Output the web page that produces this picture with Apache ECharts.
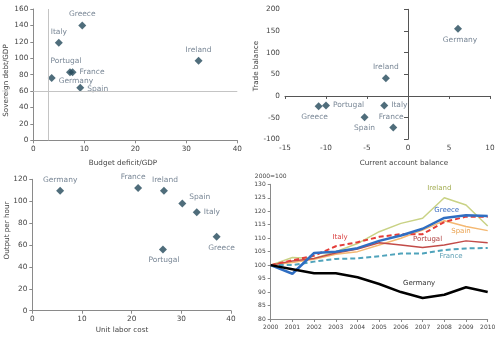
<!DOCTYPE html>
<html><head><meta charset="utf-8">
<script src="https://cdn.jsdelivr.net/npm/echarts@6/dist/echarts.min.js"></script>
<style>html,body{margin:0;padding:0;background:#fff}#c{width:500px;height:341px}</style>
</head><body><div id="c"></div>
<script>
// ---------- DATA ----------
// Chart 1: Budget deficit vs Sovereign debt
const c1Countries = ['Greece','Italy','Ireland','Portugal','France','Germany','Spain'];
const c1Deficit   = [9.6, 5.0, 32.4, 7.2, 7.7, 3.6, 9.2];
const c1Debt      = [140, 119, 97, 83, 83, 76, 64];
const c1RefX = 3, c1RefY = 60;
const c1XTicks = [0, 40, 10], c1YTicks = [0, 160, 20];
const c1Names = ['Budget deficit/GDP', 'Sovereign debt/GDP'];

// Chart 2: Current account balance vs Trade balance
const c2Countries = ['Germany','Ireland','Italy','France','Spain','Greece','Portugal'];
const c2Current   = [6.1, -2.7, -2.9, -1.8, -5.3, -10.9, -10.0];
const c2Trade     = [155, 41, -22, -73, -49, -24, -22];
const c2XTicks = [-15, 10, 5], c2YTicks = [-100, 200, 50];
const c2Names = ['Current account balance', 'Trade balance'];

// Chart 3: Unit labor cost vs Output per hour
const c3Countries = ['Germany','France','Ireland','Spain','Italy','Greece','Portugal'];
const c3ULC       = [5.6, 21.3, 26.5, 30.2, 33.1, 37.1, 26.3];
const c3Output    = [109.5, 112, 109.5, 98, 90, 67.5, 56];
const c3XTicks = [0, 40, 10], c3YTicks = [0, 120, 20];
const c3Names = ['Unit labor cost', 'Output per hour'];

// Chart 4: index 2000=100
const years = [2000,2001,2002,2003,2004,2005,2006,2007,2008,2009,2010];
const ireland  = [100, 102.8, 102.5, 105, 108, 112.4, 115.5, 117.4, 125, 122.3, 114.5];
const spain    = [100, 101, 102.2, 104, 105, 107.5, 110, 113, 116.5, 114.3, 112.8];
const portugal = [100, 101.5, 102.5, 104.5, 106, 108.3, 107.5, 106.5, 107.5, 109, 108.3];
const france   = [100, 100, 101.3, 102.3, 102.5, 103.3, 104.3, 104.3, 105.6, 106.2, 106.4];
const italy    = [100, 101.8, 103.5, 107, 108.5, 110.5, 111.5, 111.5, 116, 118, 118];
const greece   = [100, 96.8, 104.5, 105, 106.3, 109, 111, 113.5, 117.5, 118.5, 118.2];
const germany  = [100, 98.5, 97, 97, 95.5, 93, 90, 87.8, 89, 91.8, 90];
const c4YTicks = [80, 130, 5];
const c4Unit = '2000=100';

// ---------- STYLE / LAYOUT ----------
const FONT = 'DejaVu Sans';
const markerColor = '#23495a';
const labelColor = '#56687a';
const tickColor = '#444';
const axisColor = '#8a8a8a';
const TICK_FS = 7.3, NAME_FS = 7.2, LBL_FS = 7.5;

const c1Place = {Greece:['top',[0,0]], Italy:['top',[0,0]], Ireland:['top',[0,0]], Portugal:['top',[-4,0]],
  France:['right',[0,0]], Germany:['right',[0,3]], Spain:['right',[0,1]]};
const c2Place = {Germany:['bottom',[2,0]], Ireland:['top',[0,0]], Italy:['right',[0,0]], France:['top',[-2,0]],
  Spain:['bottom',[0,0]], Greece:['bottom',[-4,0]], Portugal:['right',[0,0]]};
const c3Place = {Germany:['top',[0,0]], France:['top',[-5,0]], Ireland:['top',[1,0]], Spain:['right',[0,-6]],
  Italy:['right',[0,0]], Greece:['bottom',[5,0]], Portugal:['bottom',[1,0]]};

// axis title placement (pixel centres), [x, y, rotated]
const nameSpots = [
  [c1Names[0], 123, 163, false], [c1Names[1], 6, 80.5, true],
  [c2Names[0], 404, 163, false], [c2Names[1], 256.5, 66, true],
  [c3Names[0], 122, 330.5, false], [c3Names[1], 7, 230.5, true]
];

function scatterData(names, xs, ys, place){
  return names.map((n,i)=>({
    value:[xs[i], ys[i]], name:n,
    label:{position:place[n][0], offset:place[n][1]}
  }));
}

function valAxis(gi, t, extra){
  return Object.assign({
    type:'value', gridIndex:gi, min:t[0], max:t[1], interval:t[2],
    splitLine:{show:false},
    axisLine:{show:true, onZero:false, lineStyle:{color:axisColor, width:1}},
    axisTick:{show:true, length:3, lineStyle:{color:axisColor}},
    axisLabel:{color:tickColor, fontFamily:FONT, fontSize:TICK_FS, margin:5}
  }, extra||{});
}

const scatterStyle = {
  type:'scatter', symbol:'diamond', symbolSize:8,
  itemStyle:{color:markerColor},
  label:{show:true, formatter:'{b}', color:labelColor, fontFamily:FONT, fontSize:LBL_FS, distance:3},
  emphasis:{disabled:true}
};

const lineLabelPos = {
  Ireland:[2007.77,128.5], Greece:[2008.11,120.3], Spain:[2008.77,112.7], Italy:[2003.2,110.2],
  Portugal:[2007.23,109.6], France:[2008.31,103.4], Germany:[2006.84,93.2]
};
function lineSeries(name, vals, color, width, dashed, lblColor){
  return {
    type:'line', name:name, xAxisIndex:4, yAxisIndex:4,
    data: years.map((y,i)=>[y, vals[i]]),
    symbol:'none', smooth:false,
    lineStyle:{color:color, width:width, type: dashed ? [5,3] : 'solid'},
    emphasis:{disabled:true},
    markPoint:{
      symbol:'circle', symbolSize:0, silent:true,
      data:[{coord:lineLabelPos[name], value:name}],
      label:{show:true, position:'inside', formatter:name, color:lblColor, fontFamily:FONT, fontSize:7}
    }
  };
}

const option = {
  animation:false,
  backgroundColor:'#fff',
  grid:[
    {left:33.3, right:262.7, top:9, bottom:200.7},
    {left:285, right:10, top:9.3, bottom:201.7},
    {left:32.3, right:269, top:179.3, bottom:30.3},
    {left:270.7, right:12.3, top:184.3, bottom:22}
  ],
  graphic: nameSpots.map(s => ({
    type:'text', x:s[1], y:s[2], rotation: s[3] ? Math.PI/2 : 0, silent:true,
    style:{text:s[0], fill:tickColor, font: NAME_FS + 'px "' + FONT + '"', align:'center', verticalAlign:'middle'}
  })),
  xAxis:[
    valAxis(0, c1XTicks),
    valAxis(1, c2XTicks, {position:'bottom', axisLine:{show:false, onZero:false}, axisTick:{show:false}}),
    valAxis(1, c2XTicks, {position:'top', axisLabel:{show:false},
      axisLine:{show:true, onZero:true, lineStyle:{color:'#555'}},
      axisTick:{show:true, length:3, inside:true, lineStyle:{color:'#555'}}}),
    valAxis(2, c3XTicks),
    valAxis(3, [2000,2010,1], {axisLabel:{color:tickColor, fontFamily:FONT, fontSize:6, margin:5, formatter:v=>String(v)}})
  ],
  yAxis:[
    valAxis(0, c1YTicks),
    valAxis(1, c2YTicks, {position:'left', axisLine:{show:false, onZero:false}, axisTick:{show:false}}),
    valAxis(1, c2YTicks, {position:'right', axisLabel:{show:false},
      axisLine:{show:true, onZero:true, lineStyle:{color:'#555'}},
      axisTick:{show:true, length:4, inside:true, lineStyle:{color:'#555'}}}),
    valAxis(2, c3YTicks),
    valAxis(3, c4YTicks, {name:c4Unit, nameLocation:'end', nameGap:5,
      nameTextStyle:{color:tickColor, fontFamily:FONT, fontSize:6, align:'center'},
      axisLabel:{color:tickColor, fontFamily:FONT, fontSize:6, margin:5}})
  ],
  series:[
    Object.assign({}, scatterStyle, {xAxisIndex:0, yAxisIndex:0,
      data:scatterData(c1Countries, c1Deficit, c1Debt, c1Place),
      markLine:{silent:true, symbol:'none', label:{show:false},
        lineStyle:{color:'#c4c4c4', type:'solid', width:1},
        data:[{xAxis:c1RefX},{yAxis:c1RefY}]}}),
    Object.assign({}, scatterStyle, {xAxisIndex:1, yAxisIndex:1,
      data:scatterData(c2Countries, c2Current, c2Trade, c2Place)}),
    Object.assign({}, scatterStyle, {xAxisIndex:3, yAxisIndex:3,
      data:scatterData(c3Countries, c3ULC, c3Output, c3Place)}),
    lineSeries('Ireland', ireland, '#c9d285', 1.5, false, '#a3ad52'),
    lineSeries('Spain', spain, '#f4b872', 1.5, false, '#eaa24e'),
    lineSeries('Portugal', portugal, '#c24b48', 1.5, false, '#b04242'),
    lineSeries('France', france, '#4fa3bb', 2, true, '#5b9db2'),
    lineSeries('Italy', italy, '#e43c38', 2, true, '#d94040'),
    lineSeries('Greece', greece, '#2f6ec2', 2.5, false, '#3a6cc0'),
    lineSeries('Germany', germany, '#000000', 2.5, false, '#333333')
  ]
};
const chart = echarts.init(document.getElementById('c'), null, {renderer:'canvas'});
chart.setOption(option);
</script>
</body></html>
